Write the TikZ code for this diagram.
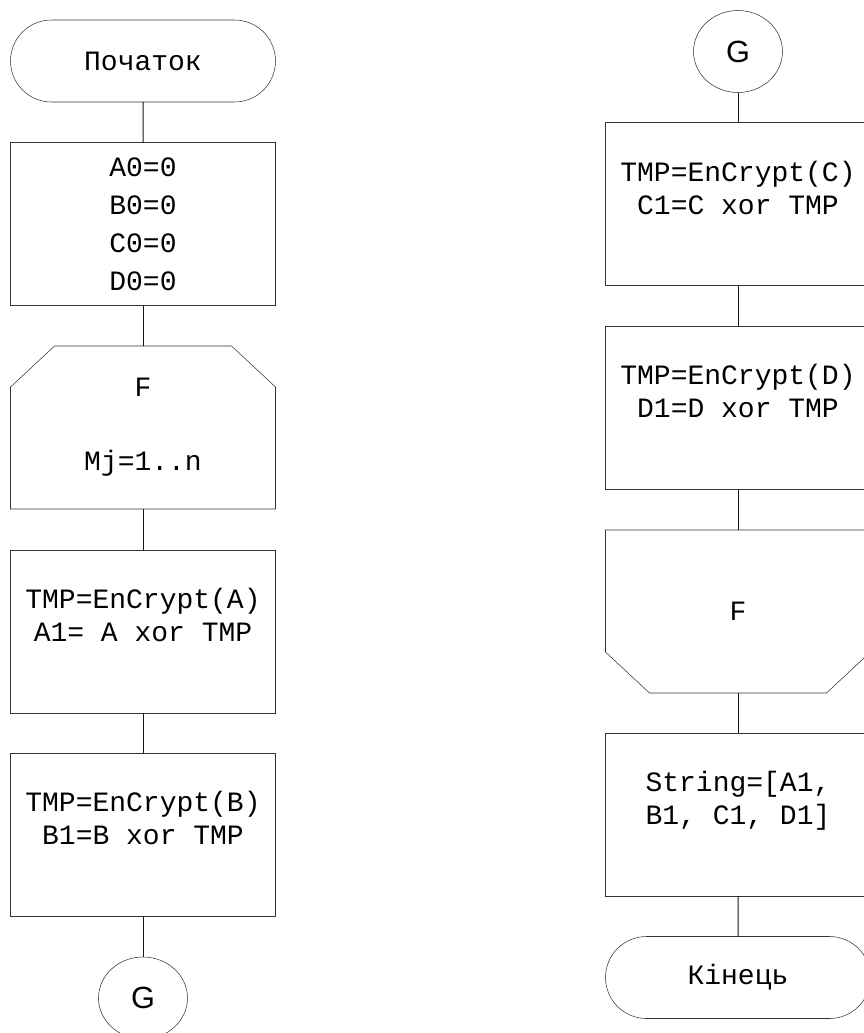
\documentclass[tikz,border=0pt]{standalone}
\usepackage{fontspec}
\setmainfont{Liberation Mono}
\newfontfamily\connfont{Liberation Sans}
\usetikzlibrary{shapes.misc,shapes.geometric}

\begin{document}
\begin{tikzpicture}[
    x=0.75pt, y=-0.75pt,
    font=\fontsize{21}{24.75}\selectfont,
    every node/.style={inner sep=0pt, outer sep=0pt, align=center},
    term/.style={rounded rectangle, draw=black!80, minimum width=198.75pt, minimum height=61.5pt},
    box/.style={rectangle, draw=black!80, minimum width=198.75pt, minimum height=122.25pt},
    loopbox/.style={rectangle, minimum width=198.75pt, minimum height=122.25pt},
    conn/.style={ellipse, draw=black!80, minimum width=66.75pt, minimum height=61.5pt, font=\connfont\fontsize{23}{27}\selectfont},
    edge/.style={draw=black!80},
    line/.style={draw=black!90, line width=0.75pt}
]
\clip (0,0) rectangle (864,1033);

% Left column
\node[term] (start) at (143,61) {Початок};
\node[box, font=\fontsize{21}{28.5}\selectfont] (init) at (143,224) {A0=0\\B0=0\\C0=0\\D0=0};
\node[loopbox] (loopbeg) at (143,427.5) {F\\[31pt]Mj=1..n};
\node[box] (enca) at (143,631.5) {TMP=EnCrypt(A)\\A1= A xor TMP\\ \mbox{}};
\node[box] (encb) at (143,834.5) {TMP=EnCrypt(B)\\B1=B xor TMP\\ \mbox{}};
\node[conn] (gleft) at (143,998) {G};

% Right column
\node[conn] (gright) at (738,51.5) {G};
\node[box] (encc) at (738,204) {TMP=EnCrypt(C)\\C1=C xor TMP\\ \mbox{}};
\node[box] (encd) at (738,407.5) {TMP=EnCrypt(D)\\D1=D xor TMP\\ \mbox{}};
\node[loopbox] (loopend) at (738,611.5) {F};
\node[box] (concat) at (738,814.5) {String=[A1,\\B1, C1, D1]\\ \mbox{}};
\node[term] (finish) at (738,977.5) {Кінець};

% Loop limits
\draw[edge] ([xshift=33pt]loopbeg.north west) -- ([xshift=-33pt]loopbeg.north east)
    -- ([yshift=-30.75pt]loopbeg.north east) -- (loopbeg.south east)
    -- (loopbeg.south west) -- ([yshift=-30.75pt]loopbeg.north west) -- cycle;
\draw[edge] (loopend.north west) -- (loopend.north east)
    -- ([yshift=30.75pt]loopend.south east) -- ([xshift=-33pt]loopend.south east)
    -- ([xshift=33pt]loopend.south west) -- ([yshift=30.75pt]loopend.south west) -- cycle;

% Lines
\draw[line] (start) -- (init);
\draw[line] (init) -- (loopbeg);
\draw[line] (loopbeg) -- (enca);
\draw[line] (enca) -- (encb);
\draw[line] (encb) -- (gleft);

\draw[line] (gright) -- (encc);
\draw[line] (encc) -- (encd);
\draw[line] (encd) -- (loopend);
\draw[line] (loopend) -- (concat);
\draw[line] (concat) -- (finish);

\end{tikzpicture}
\end{document}
